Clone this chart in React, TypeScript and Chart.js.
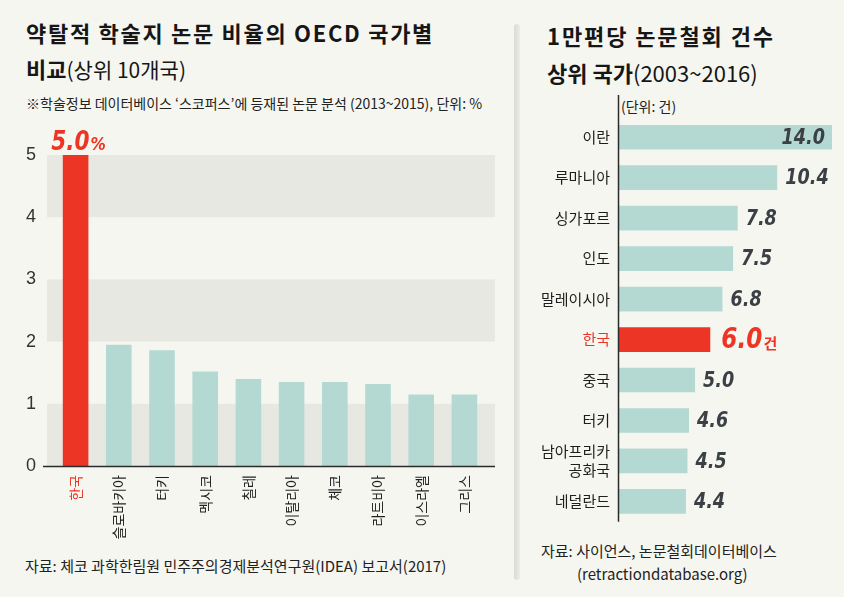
import React, { useEffect, useRef } from 'react';
import { Chart, registerables } from 'chart.js';

Chart.register(...registerables);

// ---------- Data ----------
const leftCategories = ['한국', '슬로바키아', '터키', '멕시코', '칠레', '이탈리아', '체코', '라트비아', '이스라엘', '그리스'];
const leftValues = [5.0, 1.95, 1.86, 1.52, 1.4, 1.35, 1.35, 1.32, 1.15, 1.15];
const leftTickValues = [0, 1, 2, 3, 4, 5];
const leftBands = [[0, 1], [2, 3], [4, 5]];
const leftHighlightLabel = '5.0';
const leftHighlightUnit = '%';

const rightCategories = ['이란', '루마니아', '싱가포르', '인도', '말레이시아', '한국', '중국', '터키', ['남아프리카', '공화국'], '네덜란드'];
const rightValues = [14.0, 10.4, 7.8, 7.5, 6.8, 6.0, 5.0, 4.6, 4.5, 4.4];
const rightUnit = '건';
const highlightIndexLeft = 0;
const highlightIndexRight = 5;

// ---------- Styles ----------
const BG = '#f6f6f1';
const BAND = '#e8e8e2';
const TEAL = '#b3d9d2';
const RED = '#ec3524';
const DARK = '#3b4045';
const KR = "'Noto Sans CJK KR', 'Noto Sans', sans-serif";
const NUM = "'DejaVu Sans', sans-serif";
const NARROW = "'Liberation Sans Narrow', 'Liberation Sans', sans-serif";

function drawCondensed(ctx: CanvasRenderingContext2D, text: string, x: number, y: number, align: 'left' | 'right', sx: number) {
  ctx.save();
  ctx.translate(x, y);
  ctx.scale(sx, 1);
  ctx.textAlign = align;
  ctx.fillText(text, 0, 0);
  ctx.restore();
  return ctx.measureText(text).width * sx;
}

function LeftChart() {
  const ref = useRef<HTMLCanvasElement | null>(null);
  useEffect(() => {
    if (!ref.current) return;
    const bandsPlugin = {
      id: 'bands',
      beforeDatasetsDraw(chart: any) {
        const { ctx, chartArea, scales } = chart;
        const y = scales.y;
        ctx.save();
        ctx.fillStyle = BAND;
        const l = chartArea.left - 7;
        const r = chartArea.right + 9;
        for (const [a, b] of leftBands) {
          const top = y.getPixelForValue(b);
          const bot = y.getPixelForValue(a);
          ctx.fillRect(l, top, r - l, bot - top);
        }
        ctx.restore();
      },
      afterDatasetsDraw(chart: any) {
        const { ctx, chartArea, scales } = chart;
        const y = scales.y;
        const y0 = Math.round(y.getPixelForValue(0)) + 0.5;
        ctx.save();
        ctx.strokeStyle = '#2b2b2b';
        ctx.lineWidth = 1.6;
        ctx.beginPath();
        ctx.moveTo(chartArea.left - 11, y0);
        ctx.lineTo(chartArea.right + 9, y0);
        ctx.stroke();
        // highlight label
        const bar = chart.getDatasetMeta(0).data[highlightIndexLeft];
        ctx.fillStyle = RED;
        ctx.textBaseline = 'alphabetic';
        const s1 = 0.8;
        const s2 = 0.85;
        ctx.font = `italic bold 27px ${NUM}`;
        const w1 = ctx.measureText(leftHighlightLabel).width * s1;
        ctx.font = `italic bold 18px ${NUM}`;
        const w2 = ctx.measureText(leftHighlightUnit).width * s2;
        const startX = bar.x + 3 - (w1 + w2 + 1) / 2;
        const baseY = bar.y - 5;
        ctx.font = `italic bold 27px ${NUM}`;
        drawCondensed(ctx, leftHighlightLabel, startX, baseY, 'left', s1);
        ctx.font = `italic bold 18px ${NUM}`;
        drawCondensed(ctx, leftHighlightUnit, startX + w1 + 1, baseY, 'left', s2);
        ctx.restore();
      },
    };
    const chart = new Chart(ref.current, {
      type: 'bar',
      data: {
        labels: leftCategories,
        datasets: [
          {
            data: leftValues,
            backgroundColor: leftCategories.map((_, i) => (i === highlightIndexLeft ? RED : TEAL)),
            barPercentage: 0.593,
            categoryPercentage: 1,
          },
        ],
      },
      options: {
        animation: false,
        responsive: false,
        maintainAspectRatio: false,
        layout: { padding: { left: 0, right: 14, top: 35, bottom: 0 } },
        plugins: { legend: { display: false }, tooltip: { enabled: false } },
        scales: {
          x: {
            grid: { display: false, drawTicks: false },
            border: { display: false },
            ticks: {
              minRotation: 90,
              maxRotation: 90,
              autoSkip: false,
              padding: 9,
              color: (c: any) => (c.index === highlightIndexLeft ? RED : '#1e1e1e'),
              font: { family: KR, size: 14 },
            },
            afterFit: (s: any) => {
              s.height = 114;
            },
          },
          y: {
            min: 0,
            max: 5,
            afterBuildTicks: (s: any) => {
              s.ticks = leftTickValues.map((v) => ({ value: v }));
            },
            grid: { display: false, drawTicks: false },
            border: { display: false },
            ticks: {
              padding: 18,
              color: '#333',
              font: { family: NARROW, size: 18 },
            },
            afterFit: (s: any) => {
              s.width = 54;
            },
          },
        },
      },
      plugins: [bandsPlugin],
    } as any);
    return () => chart.destroy();
  }, []);
  return (
    <canvas
      ref={ref}
      width={500}
      height={460}
      style={{ position: 'absolute', left: 0, top: 120, width: 500, height: 460 }}
    />
  );
}

function RightChart() {
  const ref = useRef<HTMLCanvasElement | null>(null);
  useEffect(() => {
    if (!ref.current) return;
    const labelsPlugin = {
      id: 'rlabels',
      afterDatasetsDraw(chart: any) {
        const { ctx, chartArea } = chart;
        ctx.save();
        // axis line
        const ax = Math.round(chartArea.left) - 0.5;
        ctx.strokeStyle = '#2b2b2b';
        ctx.lineWidth = 1.5;
        ctx.beginPath();
        ctx.moveTo(ax, chartArea.top - 22);
        ctx.lineTo(ax, chartArea.bottom);
        ctx.stroke();
        const meta = chart.getDatasetMeta(0);
        ctx.textBaseline = 'middle';
        const sx = 0.8;
        meta.data.forEach((bar: any, i: number) => {
          const txt = rightValues[i].toFixed(1);
          if (i === 0) {
            ctx.fillStyle = DARK;
            ctx.font = `italic bold 22px ${NUM}`;
            drawCondensed(ctx, txt, bar.x - 7, bar.y + 1, 'right', sx);
          } else if (i === highlightIndexRight) {
            ctx.fillStyle = RED;
            ctx.font = `italic bold 29px ${NUM}`;
            const x0 = bar.x + 11;
            const w = drawCondensed(ctx, txt, x0, bar.y + 1, 'left', sx);
            ctx.font = `bold 15px ${KR}`;
            ctx.textAlign = 'left';
            ctx.fillText(rightUnit, x0 + w + 1, bar.y + 4);
          } else {
            ctx.fillStyle = DARK;
            ctx.font = `italic bold 22px ${NUM}`;
            drawCondensed(ctx, txt, bar.x + 8, bar.y + 1, 'left', sx);
          }
        });
        ctx.restore();
      },
    };
    const chart = new Chart(ref.current, {
      type: 'bar',
      data: {
        labels: rightCategories,
        datasets: [
          {
            data: rightValues,
            backgroundColor: rightValues.map((_, i) => (i === highlightIndexRight ? RED : TEAL)),
            barPercentage: 0.61,
            categoryPercentage: 1,
          },
        ],
      },
      options: {
        indexAxis: 'y',
        animation: false,
        responsive: false,
        maintainAspectRatio: false,
        layout: { padding: { left: 0, right: 12, top: 27, bottom: 13 } },
        plugins: { legend: { display: false }, tooltip: { enabled: false } },
        scales: {
          x: { display: false, min: 0, max: 14 },
          y: {
            grid: { display: false, drawTicks: false },
            border: { display: false },
            ticks: {
              padding: 9,
              autoSkip: false,
              color: (c: any) => (c.index === highlightIndexRight ? RED : '#1e1e1e'),
              font: { family: KR, size: 15, lineHeight: 1.25 },
            },
            afterFit: (s: any) => {
              s.width = 104;
            },
          },
        },
      },
      plugins: [labelsPlugin],
    } as any);
    return () => chart.destroy();
  }, []);
  return (
    <canvas
      ref={ref}
      width={329}
      height={450}
      style={{ position: 'absolute', left: 515, top: 90, width: 329, height: 450 }}
    />
  );
}

const abs = (left: number, top: number, size: number, lh: number, extra: any = {}) => ({
  position: 'absolute' as const,
  left,
  top,
  fontSize: size,
  lineHeight: `${lh}px`,
  whiteSpace: 'nowrap' as const,
  color: '#161616',
  ...extra,
});

export default function App() {
  return (
    <div
      style={{
        position: 'fixed',
        left: 0,
        top: 0,
        width: 844,
        height: 597,
        background: BG,
        fontFamily: KR,
        overflow: 'hidden',
      }}
    >
      <div style={abs(26, 19, 22, 26, { fontWeight: 700, letterSpacing: 1.7 })}>약탈적 학술지 논문 비율의 OECD 국가별</div>
      <div style={abs(26, 55, 22, 26)}>
        <span style={{ fontWeight: 700 }}>비교</span>
        <span style={{ fontWeight: 400, fontSize: 21 }}>(상위 10개국)</span>
      </div>
      <div style={abs(26, 94, 14, 18, { color: '#222' })}>
        ※학술정보 데이터베이스 ‘스코퍼스’에 등재된 논문 분석 (2013~2015), 단위: %
      </div>
      <div style={abs(25, 556, 15, 20, { color: '#222' })}>
        자료: 체코 과학한림원 민주주의경제분석연구원(IDEA) 보고서(2017)
      </div>

      <div
        style={{
          position: 'absolute',
          left: 514,
          top: 24,
          width: 6,
          height: 556,
          borderRadius: 3,
          background: 'linear-gradient(to right, #d9d9d5, #ecece8)',
        }}
      />

      <div style={abs(547, 22, 22, 26, { fontWeight: 700, letterSpacing: 1.9 })}>1만편당 논문철회 건수</div>
      <div style={abs(547, 59, 22, 26)}>
        <span style={{ fontWeight: 700 }}>상위 국가</span>
        <span style={{ fontWeight: 400 }}>(2003~2016)</span>
      </div>
      <div style={abs(621, 97, 14, 18, { color: '#222' })}>(단위: 건)</div>
      <div style={abs(541, 541, 15, 20, { color: '#222' })}>자료: 사이언스, 논문철회데이터베이스</div>
      <div style={abs(577, 564, 15, 20, { color: '#222' })}>(retractiondatabase.org)</div>

      <LeftChart />
      <RightChart />
    </div>
  );
}
